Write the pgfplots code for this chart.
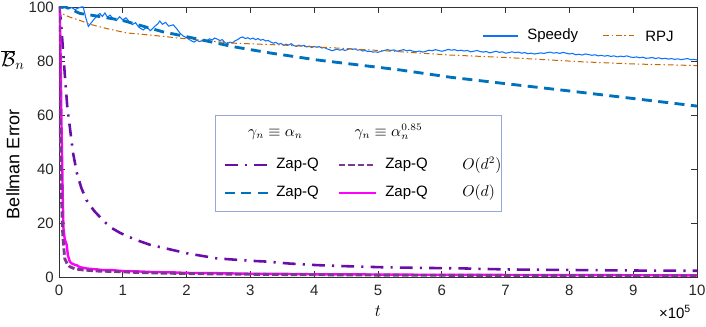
\documentclass[border=0pt]{standalone}
\usepackage{pgfplots}
\pgfplotsset{compat=1.18}
\usepackage{fontspec}
\setmainfont{Liberation Sans}
\definecolor{zapA}{rgb}{0.42,0.05,0.65}
\definecolor{zapB}{rgb}{0.0,0.447,0.741}
\definecolor{zapC}{rgb}{0.49,0.22,0.56}
\definecolor{zapD}{rgb}{1.0,0.0,1.0}
\definecolor{speedy}{rgb}{0.05,0.45,1.0}
\definecolor{rpj}{rgb}{0.78,0.40,0.0}
\definecolor{legbox}{rgb}{0.6,0.65,0.85}
\tikzset{
  sZapA/.style={color=zapA, line width=1.8pt, dash pattern=on 9pt off 5pt on 1.5pt off 5pt},
  sZapB/.style={color=zapB, line width=2.0pt, dash pattern=on 7pt off 4.5pt},
  sZapC/.style={color=zapC, line width=2.0pt, dash pattern=on 4.5pt off 2pt},
  sZapD/.style={color=zapD, line width=1.7pt},
  sSpeedy/.style={color=speedy, line width=0.75pt},
  sRPJ/.style={color=rpj, line width=0.7pt, dash pattern=on 4pt off 2pt on 1pt off 2pt},
}
\begin{document}
\fontsize{10.5}{12.6}\selectfont
\begin{tikzpicture}
\begin{axis}[
  at={(0pt,0pt)}, anchor=south west,
  scale only axis, width=446.6pt, height=189pt,
  xmin=0, xmax=10, ymin=0, ymax=100,
  xtick={0,1,...,10}, ytick={0,20,40,60,80,100},
  tick align=inside, major tick length=4.5pt,
  axis line style={black!80, line width=0.5pt},
  every tick/.style={black!80, line width=0.5pt},
  /pgf/number format/assume math mode=true,
  tick label style={font=\fontsize{10.5}{12}\selectfont, color=black!85},
  xticklabel style={yshift=-2pt},
]
% Speedy
\addplot[sSpeedy] coordinates {
(0,100) (0.05,99.5) (0.1,100) (0.15,99.3) (0.2,99.8) (0.25,99.0) (0.3,99.6) (0.35,100) (0.38,100)
(0.42,96) (0.46,92.8) (0.5,94) (0.55,95.5) (0.6,96.8) (0.64,97.6) (0.68,96.5) (0.72,97.8) (0.76,96.2)
(0.8,97) (0.85,95.6) (0.9,95) (0.95,96.4) (1.0,95.2) (1.05,96) (1.1,94.6) (1.15,93.5) (1.2,94.2)
(1.25,92.5) (1.32,91.5) (1.38,92.6) (1.43,91.2) (1.5,92.8) (1.55,93.8) (1.58,94.8) (1.62,93.6)
(1.67,94.3) (1.72,92.9) (1.79,93.4) (1.85,91.8) (1.9,90.2) (1.95,89.2)
(2.00,88.6) (2.04,88.0) (2.08,87.4) (2.12,87.0) (2.16,87.7) (2.20,87.2) (2.24,87.5) (2.28,88.0)
(2.32,87.6) (2.36,88.2) (2.40,87.8) (2.44,88.5) (2.48,88.1) (2.52,87.6) (2.56,87.9) (2.60,86.8)
(2.64,86.4) (2.68,87.0) (2.72,86.7) (2.76,87.5) (2.80,87.9) (2.84,88.6) (2.88,88.9) (2.92,88.3)
(2.96,88.6) (3.00,88.1) (3.04,88.5) (3.08,87.9) (3.12,88.3) (3.16,87.7) (3.20,88.0) (3.24,87.4)
(3.28,87.6) (3.32,87.0) (3.36,86.6) (3.40,86.9) (3.44,86.2) (3.48,86.5) (3.52,85.8) (3.56,86.2)
(3.60,85.9) (3.64,86.4) (3.68,85.7) (3.72,85.4) (3.76,85.9) (3.80,85.5) (3.84,85.8) (3.88,85.2)
(3.92,85.5) (3.96,85.0) (4.00,85.4) (4.04,85.1) (4.08,85.3) (4.12,84.8) (4.16,85.0) (4.20,84.5)
(4.24,84.2) (4.28,83.8) (4.32,84.1) (4.36,84.4) (4.40,84.0) (4.44,84.3) (4.48,83.9) (4.52,84.2)
(4.56,84.6) (4.60,84.3) (4.64,84.5) (4.68,84.0) (4.72,84.2) (4.76,83.7) (4.80,83.9) (4.84,83.5)
(4.88,83.6) (4.92,83.3) (4.96,83.4) (5.00,83.2) (5.05,83.6) (5.10,83.9) (5.15,84.2) (5.20,83.9)
(5.25,84.1) (5.30,83.6) (5.35,83.9) (5.40,84.2) (5.45,83.8) (5.50,84.0) (5.55,83.6) (5.60,83.4)
(5.65,83.7) (5.70,83.3) (5.75,83.6) (5.80,84.0) (5.85,83.8) (5.90,84.2) (5.95,83.9) (6.00,83.6)
(6.05,83.9) (6.10,84.3) (6.15,84.0) (6.20,84.2) (6.25,83.8) (6.30,84.0) (6.35,83.7) (6.40,83.9)
(6.45,83.4) (6.50,83.6) (6.55,83.9) (6.60,83.5) (6.65,83.3) (6.70,83.5) (6.75,83.0) (6.80,83.3)
(6.85,83.6) (6.90,83.2) (6.95,83.4) (7.00,82.9) (7.05,83.1) (7.10,83.4) (7.15,83.1) (7.20,83.3)
(7.25,82.9) (7.30,83.1) (7.35,82.7) (7.40,82.9) (7.45,82.6) (7.50,82.8) (7.55,83.0) (7.60,82.8)
(7.65,83.1) (7.70,83.3) (7.75,82.9) (7.80,83.1) (7.85,82.8) (7.90,83.2) (7.95,82.9) (8.00,82.6)
(8.05,82.8) (8.10,82.3) (8.15,82.5) (8.20,82.2) (8.25,82.6) (8.30,82.4) (8.35,82.1) (8.40,82.3)
(8.45,81.9) (8.50,82.1) (8.55,81.8) (8.60,82.0) (8.65,81.7) (8.70,81.9) (8.75,81.5) (8.80,81.8)
(8.85,81.6) (8.90,81.9) (8.95,81.5) (9.00,81.3) (9.05,81.5) (9.10,81.2) (9.15,81.4) (9.20,81.0)
(9.25,81.1) (9.30,81.3) (9.35,80.9) (9.40,81.2) (9.45,80.8) (9.50,81.0) (9.55,80.7) (9.60,80.9)
(9.65,80.6) (9.70,80.8) (9.75,80.5) (9.80,80.7) (9.85,80.9) (9.90,80.5) (9.95,80.6) (10.00,80.4)
};
% RPJ
\addplot[sRPJ] coordinates {
(0,100) (0.03,98) (0.09,97) (0.2,96) (0.33,95) (0.5,93.5) (0.75,92) (1.06,90.4) (1.43,89.6)
(2,88.2) (2.73,86.6) (3.5,85.9) (4.5,84.6) (5.3,83.5) (6.13,82.2) (7,81.3) (8.2,79.7) (9,78.9) (10,78.3)
};
% Zap-Q gamma=alpha (blue dashed)
\addplot[sZapB] coordinates {
(0,100) (0.1,100) (0.2,99) (0.33,97.6) (0.5,97) (0.75,96) (1,95) (1.3,93) (1.63,90.8) (2,89)
(2.73,85.3) (3.3,83) (4.04,80.4) (5.34,76.7) (6.13,74) (7,71.6) (8,68.9) (9,66.1) (10,63.3)
};
% Zap-Q gamma=alpha (purple dash-dot)
\addplot[sZapA] coordinates {
(0,100) (0.03,95) (0.06,85) (0.094,74) (0.13,63) (0.17,55.5) (0.22,46) (0.28,38.5) (0.35,33)
(0.43,28.5) (0.55,24.5) (0.69,21) (0.8,18.5) (0.96,16.3) (1.2,13.8) (1.43,11.9) (1.69,10.5)
(2,8.8) (2.47,6.9) (3,6) (3.26,5.7) (3.6,5) (4.04,4.4) (4.5,4) (5.08,3.6) (5.6,3.4) (6.29,3.2)
(7,2.8) (8,2.6) (9,2.4) (10,2.3)
};
% Zap-Q O(d) magenta
\addplot[sZapD] coordinates {
(0,100) (0.01,98) (0.02,90) (0.04,55) (0.06,28) (0.07,18) (0.09,14) (0.12,12) (0.14,8) (0.17,5.7)
(0.2,5) (0.24,4.6) (0.28,4.3) (0.33,3.6) (0.38,3.4) (0.45,3.1) (0.5,3.0) (0.6,2.8) (0.7,2.5)
(0.8,2.6) (1,2.2) (1.2,2.1) (1.5,1.8) (1.8,1.7) (2,1.5) (2.5,1.4) (3,1.2) (3.5,1.15) (4,1.0)
(4.5,1.0) (5,0.9) (6,0.8) (7,0.75) (8,0.7) (9,0.65) (10,0.6)
};
% Zap-Q O(d^2) purple dashed
\addplot[sZapC] coordinates {
(0,100) (0.01,80) (0.02,55) (0.04,28.5) (0.06,15) (0.09,6.8) (0.13,4.8) (0.17,3.8) (0.25,3)
(0.38,2.6) (0.6,2.2) (0.9,2) (1.3,1.6) (1.69,1.4) (2.5,1.1) (3.5,0.9) (5,0.7) (7,0.55) (10,0.45)
};
\end{axis}
\begin{scope}[x=0.7pt, y=-0.7pt, shift={(-41.3pt,193.9pt)}]
  % axis labels
  \node[inner sep=0pt] at (13,60) {\fontsize{14}{16}\selectfont$\overline{\mathcal{B}}_n$};
  \node[rotate=90, inner sep=0pt] at (13,164) {\fontsize{12.6}{14}\selectfont Bellman Error};
  \node[inner sep=0pt] at (378,311) {\fontsize{12}{14}\selectfont$t$};
  \node[inner sep=0pt] at (675,312) {×10\textsuperscript{5}};
  % legend 1
  \draw[sSpeedy] (483,36) -- (518,36);
  \node[anchor=west, inner sep=0pt] at (527,36) {Speedy};
  \draw[sRPJ] (603,36) -- (637,36);
  \node[anchor=west, inner sep=0pt] at (645,36) {RPJ};
  % legend 2
  \draw[legbox, fill=white, line width=0.6pt] (215,115) rectangle (501,211);
  \node[inner sep=0pt] at (275.5,134) {$\gamma_n\equiv\alpha_n$};
  \node[inner sep=0pt] at (388.5,132) {$\gamma_n\equiv\alpha_n^{0.85}$};
  \draw[sZapA] (225,165) -- (268,165);
  \node[anchor=west, inner sep=0pt] at (276,165) {Zap-Q};
  \draw[sZapC] (339,165) -- (376,165);
  \node[anchor=west, inner sep=0pt] at (385,165) {Zap-Q};
  \node[anchor=west, inner sep=0pt] at (462,165) {$O(d^2)$};
  \draw[sZapB] (225,193) -- (268,193);
  \node[anchor=west, inner sep=0pt] at (276,193) {Zap-Q};
  \draw[sZapD] (339,193) -- (376,193);
  \node[anchor=west, inner sep=0pt] at (385,193) {Zap-Q};
  \node[anchor=west, inner sep=0pt] at (462,193) {$O(d)$};
\end{scope}
\pgfresetboundingbox
\path[use as bounding box] (-41.3pt,-35pt) rectangle (452.9pt,193.9pt);
\end{tikzpicture}
\end{document}
